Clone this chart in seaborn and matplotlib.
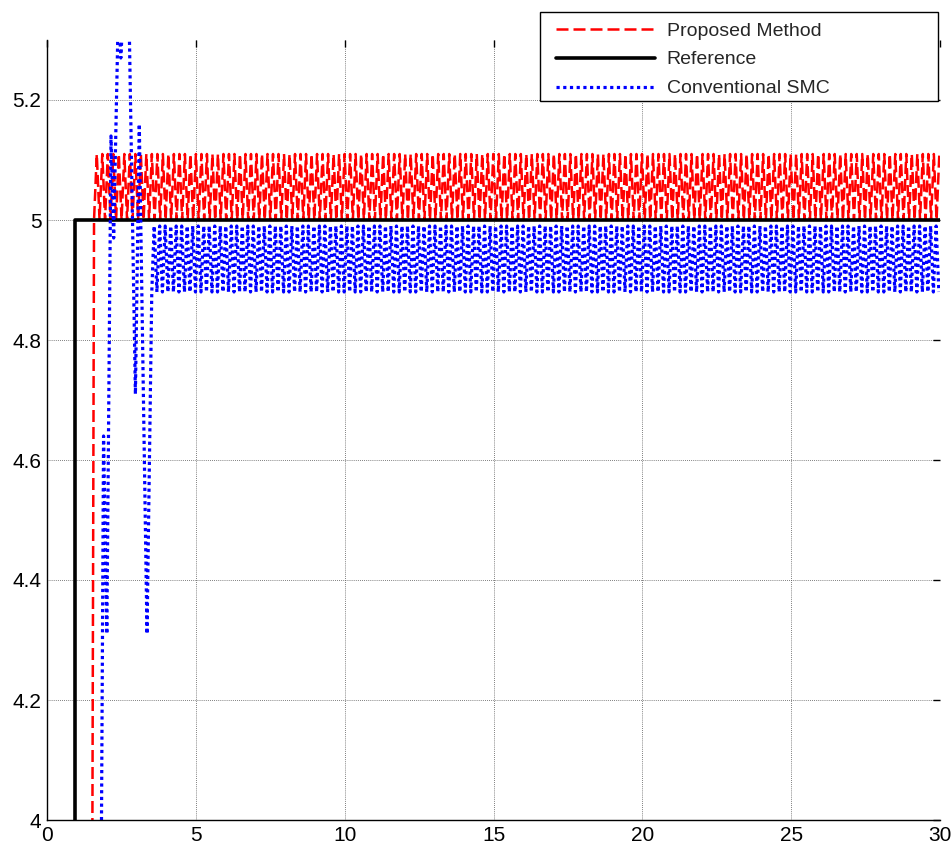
import numpy as np
import pandas as pd
import matplotlib
matplotlib.use("Agg")
import matplotlib.pyplot as plt
import matplotlib.patches as mpatches
import seaborn as sns

# ---------------- data ----------------
# Reference step
ref_t = [0.0, 0.93, 0.93, 30.0]
ref_y = [3.0, 3.0, 5.0, 5.0]

# Proposed method: rise, then chattering between two levels
prop_rise_t = [0.0, 1.49, 1.52, 1.58]
prop_rise_y = [3.0, 3.0, 3.9, 5.0]
prop_levels = [5.0, 5.11]
prop_chatter_start = 1.58

# Conventional SMC: transient, then chattering between two levels
smc_rise_t = [0.0, 1.78, 1.82, 1.90, 2.01, 2.15, 2.24, 2.40, 2.48, 2.57, 2.76, 2.97, 3.10, 3.36, 3.52]
smc_rise_y = [3.0, 3.0, 3.9, 4.64, 4.31, 5.14, 4.97, 5.36, 5.27, 5.36, 5.33, 4.71, 5.16, 4.31, 4.88]
smc_levels = [4.99, 4.88]
smc_chatter_start = 3.60

chatter_step = 0.0925   # spacing of the chatter strokes
t_end = 30.0

x_ticks = [0, 5, 10, 15, 20, 25, 30]
y_ticks = [4.0, 4.2, 4.4, 4.6, 4.8, 5.0, 5.2]
y_tick_labels = ["4", "4.2", "4.4", "4.6", "4.8", "5", "5.2"]
series_names = ["Proposed Method", "Reference", "Conventional SMC"]

# ---------------- build series ----------------
def chatter(start, levels):
    t = np.arange(start, t_end + 1e-9, chatter_step)
    y = np.resize(np.array(levels), len(t))
    return t, y

pc_t, pc_y = chatter(prop_chatter_start, prop_levels)
sc_t, sc_y = chatter(smc_chatter_start, smc_levels)

df_prop = pd.DataFrame({"t": np.r_[prop_rise_t[:-1], pc_t], "y": np.r_[prop_rise_y[:-1], pc_y]})
df_ref = pd.DataFrame({"t": ref_t, "y": ref_y})
df_smc = pd.DataFrame({"t": np.r_[smc_rise_t, sc_t], "y": np.r_[smc_rise_y, sc_y]})

# ---------------- plot ----------------
sns.set_style("white")
plt.rcParams["font.family"] = ["Liberation Sans", "DejaVu Sans"]

W, H = 951, 846
fig = plt.figure(figsize=(W / 100, H / 100), dpi=100)
ax = fig.add_axes([47 / W, 26 / H, 893 / W, 780 / H])

sns.lineplot(data=df_prop, x="t", y="y", ax=ax, color="#ff0000", lw=1.8,
             estimator=None, sort=False, label=series_names[0])
ax.lines[-1].set_dashes([4.8, 2.0])
sns.lineplot(data=df_ref, x="t", y="y", ax=ax, color="black", lw=2.6,
             estimator=None, sort=False, label=series_names[1])
sns.lineplot(data=df_smc, x="t", y="y", ax=ax, color="#0000ff", lw=2.3,
             estimator=None, sort=False, label=series_names[2])
ax.lines[-1].set_dashes([1.0, 1.1])

ax.set_xlim(0, 30)
ax.set_ylim(4, 5.3)
ax.set_xticks(x_ticks)
ax.set_xticklabels([str(v) for v in x_ticks])
ax.set_yticks(y_ticks)
ax.set_yticklabels(y_tick_labels)
ax.set_xlabel("")
ax.set_ylabel("")

ax.grid(True, color="#555555", linestyle=(0, (1, 1.5)), linewidth=0.6)
ax.set_axisbelow(True)

for s in ["top", "right"]:
    ax.spines[s].set_visible(False)
for s in ["left", "bottom"]:
    ax.spines[s].set_color("black")
    ax.spines[s].set_linewidth(1.0)

ax.tick_params(direction="in", length=5, width=1, top=True, right=True,
               labelsize=15, pad=4, colors="black")

# legend frame (MATLAB-like, extends above the axes)
frame = mpatches.Rectangle((540 / W, (H - 101) / H), 398 / W, 89 / H,
                           transform=fig.transFigure, facecolor="white",
                           edgecolor="black", linewidth=1.0, clip_on=False, zorder=4)
ax.add_patch(frame)

leg = ax.legend(loc="upper left", bbox_to_anchor=(556 / W, (H - 22) / H),
                bbox_transform=fig.transFigure, frameon=False,
                fontsize=14, handlelength=5.1, handletextpad=0.6,
                borderpad=0, labelspacing=0.58, borderaxespad=0)
leg.set_zorder(5)

fig.savefig("out.png", dpi=100)
